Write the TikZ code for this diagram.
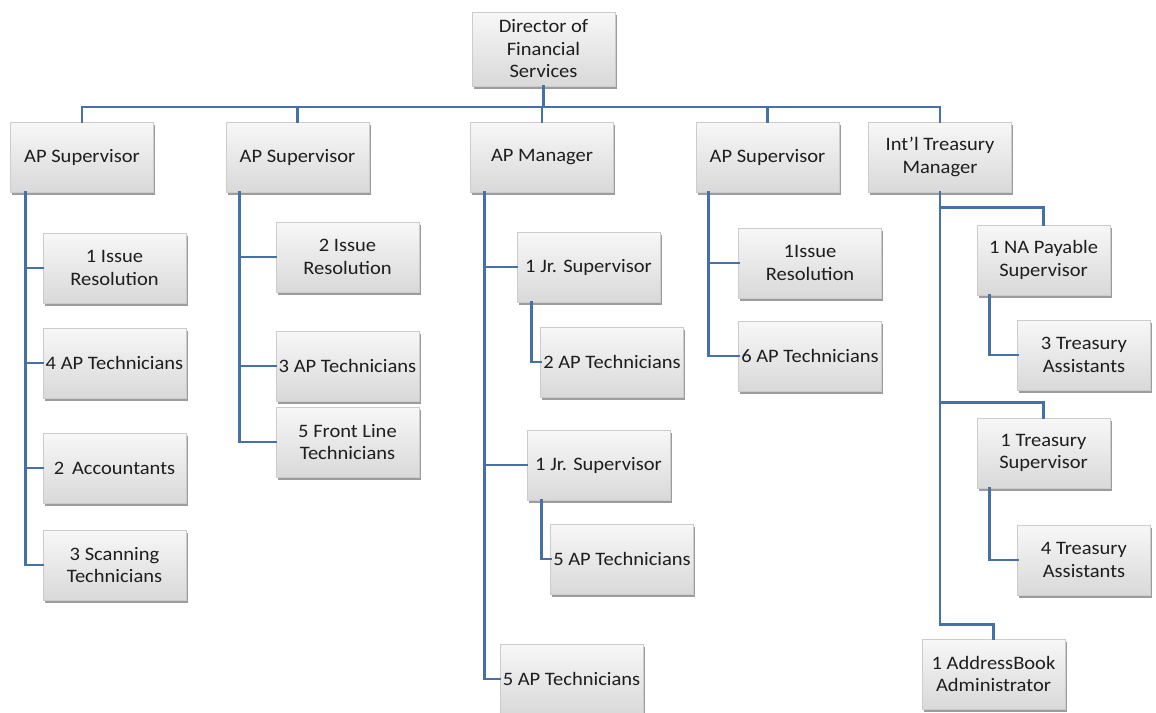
\documentclass[tikz,border=0pt]{standalone}
\usepackage{fontspec}
\setmainfont{Carlito}[FakeStretch=1.08]
\usetikzlibrary{shadows}
\definecolor{linkblue}{RGB}{70,112,168}
\definecolor{boxtext}{RGB}{30,30,30}
\tikzset{
  orgbox/.style={rectangle, minimum width=143pt, minimum height=70pt,
    inner sep=2pt, align=center, text=boxtext,
    font=\fontsize{19}{22.5}\selectfont,
    top color=gray!6, bottom color=gray!30, draw=gray!40, line width=0.6pt,
    drop shadow={shadow xshift=1.5pt, shadow yshift=-3pt, opacity=0.55, fill=black!70}},
  narrowbox/.style={orgbox, minimum width=133pt},
  conn/.style={draw=linkblue, line width=2.8pt, line cap=rect}
}
\begin{document}
\begin{tikzpicture}[x=1pt, y=-1pt]
\fill[white] (0,0) rectangle (1156,712);
\useasboundingbox (0,0) rectangle (1156,712);

% top of the chart
\node[orgbox, minimum height=74pt] (dir) at (543.5,49) {Director of\\Financial\\Services};

% first level
\node[orgbox] (sup1) at (82,157) {AP Supervisor};
\node[orgbox] (sup2) at (297.5,157) {AP Supervisor};
\node[orgbox] (mgr)  at (542,157) {AP Manager};
\node[orgbox] (sup3) at (767.5,157) {AP Supervisor};
\node[orgbox] (intl) at (940,157) {Int'l Treasury\\Manager};

% first AP supervisor's staff
\node[orgbox] (a1) at (114.5,268) {1 Issue\\Resolution};
\node[orgbox] (a2) at (114.5,363) {4 AP Technicians};
\node[orgbox] (a3) at (114.5,468) {2\, Accountants};
\node[orgbox] (a4) at (114.5,565) {3 Scanning\\Technicians};

% second AP supervisor's staff
\node[orgbox] (b1) at (347.5,257) {2 Issue\\Resolution};
\node[orgbox] (b2) at (347.5,366) {3 AP Technicians};
\node[orgbox] (b3) at (347.5,442) {5 Front Line\\Technicians};

% AP manager's staff
\node[orgbox] (m1) at (588.5,267) {1 Jr. Supervisor};
\node[orgbox] (m2) at (612,362) {2 AP Technicians};
\node[orgbox] (m3) at (598.5,465) {1 Jr. Supervisor};
\node[orgbox] (m4) at (622,559) {5 AP Technicians};
\node[orgbox] (m5) at (571.5,679) {5 AP Technicians};

% third AP supervisor's staff
\node[orgbox] (c1) at (810,263) {1Issue\\Resolution};
\node[orgbox] (c2) at (810,356) {6 AP Technicians};

% treasury staff
\node[narrowbox] (t1) at (1043.5,260) {1 NA Payable\\Supervisor};
\node[narrowbox] (t2) at (1084,355) {3 Treasury\\Assistants};
\node[narrowbox] (t3) at (1043.5,453) {1 Treasury\\Supervisor};
\node[narrowbox] (t4) at (1084,560) {4 Treasury\\Assistants};
\node[orgbox] (t5) at (993.5,674) {1 AddressBook\\Administrator};

% main bus under the director
\coordinate (bus) at (0,107);
\draw[conn] (dir.south) -- (dir.south |- bus);
\draw[conn] (sup1.north) -- (sup1.north |- bus) -| (intl.north);
\foreach \n in {sup2,mgr,sup3} \draw[conn] (\n.north) -- (\n.north |- bus);

% side rails
\coordinate (r1) at ([xshift=15pt]sup1.south west);
\draw[conn] (r1) |- (a4.west);
\foreach \n in {a1,a2,a3} \draw[conn] (r1 |- \n.west) -- (\n.west);

\coordinate (r2) at ([xshift=14pt]sup2.south west);
\draw[conn] (r2) |- (b3.west);
\foreach \n in {b1,b2} \draw[conn] (r2 |- \n.west) -- (\n.west);

\coordinate (r3) at ([xshift=14pt]mgr.south west);
\draw[conn] (r3) |- (m5.west);
\foreach \n in {m1,m3} \draw[conn] (r3 |- \n.west) -- (\n.west);
\draw[conn] ([xshift=15pt]m1.south west) |- (m2.west);
\draw[conn] ([xshift=15pt]m3.south west) |- (m4.west);

\coordinate (r4) at ([xshift=13pt]sup3.south west);
\draw[conn] (r4) |- (c2.west);
\draw[conn] (r4 |- c1.west) -- (c1.west);

% treasury rail with elbows dropping onto box tops
\coordinate (e1) at ([yshift=17pt]t1.north);
\coordinate (e3) at ([yshift=15pt]t3.north);
\coordinate (e5) at ([yshift=14pt]t5.north);
\draw[conn] (intl.south) |- (e5) -- (t5.north);
\draw[conn] (intl.south |- e1) -| (t1.north);
\draw[conn] (intl.south |- e3) -| (t3.north);
\draw[conn] ([xshift=13pt]t1.south west) |- (t2.west);
\draw[conn] ([xshift=13pt]t3.south west) |- (t4.west);
\end{tikzpicture}
\end{document}
